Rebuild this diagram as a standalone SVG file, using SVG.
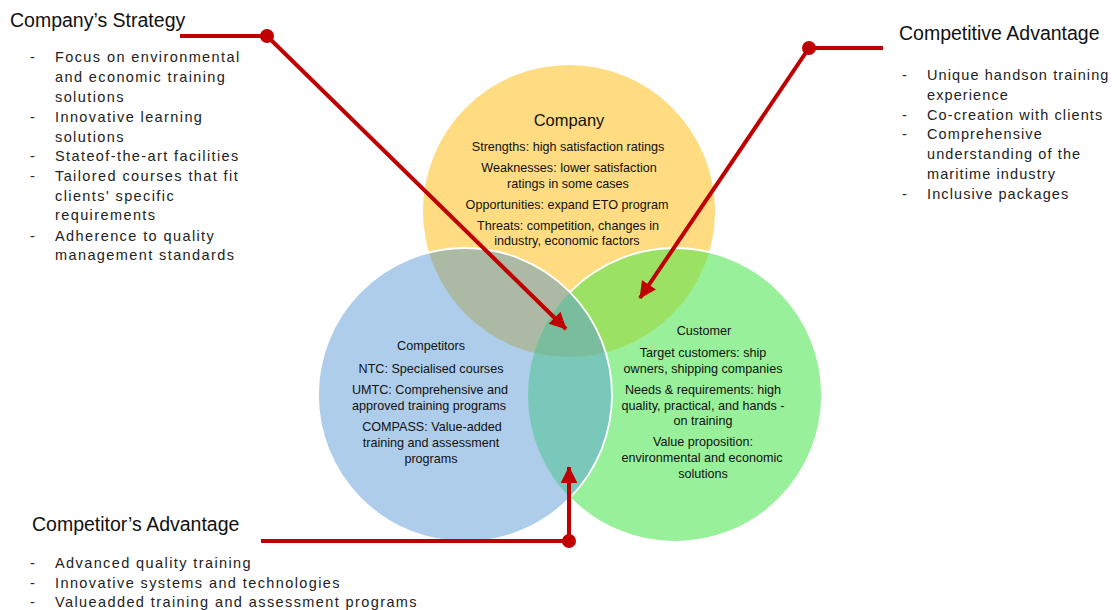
<svg xmlns="http://www.w3.org/2000/svg" width="1117" height="610" viewBox="0 0 1117 610">
  <style>
    .head { font-family: "Liberation Sans", Arial, sans-serif; font-size: 19.5px; fill: #111; }
    .bul { font-family: "Liberation Sans", Arial, sans-serif; font-size: 14.5px; letter-spacing: 1.4px; fill: #222; }
    .bul.tight { letter-spacing: 1.1px; }
    .ctitle { font-family: "Liberation Sans", Arial, sans-serif; font-size: 16.5px; fill: #111; text-anchor: middle; }
    .ctext { font-family: "Liberation Sans", Arial, sans-serif; font-size: 12.6px; fill: #111; text-anchor: middle; }
    .conn { stroke: #C00000; stroke-width: 4; fill: none; }
    .dot { fill: #C00000; }
    .edge { fill: none; stroke: #FFFFFF; stroke-width: 1.8; }
  </style>
  <defs>
    <circle id="cYellow" cx="569" cy="211" r="146"/>
    <circle id="cBlue" cx="465" cy="395" r="147"/>
    <circle id="cGreen" cx="675" cy="395" r="147"/>
    <clipPath id="clipYellow"><use href="#cYellow"/></clipPath>
    <clipPath id="clipBlue"><use href="#cBlue"/></clipPath>
    <clipPath id="clipGreen"><use href="#cGreen"/></clipPath>
    <mask id="outsideBlue" maskUnits="userSpaceOnUse" x="0" y="0" width="1117" height="610">
      <rect x="0" y="0" width="1117" height="610" fill="#fff"/>
      <circle cx="465" cy="395" r="147" fill="#000"/>
    </mask>
    <marker id="arrow" viewBox="0 0 10 10" refX="9.5" refY="5" markerWidth="4.6" markerHeight="4.2" orient="auto" markerUnits="strokeWidth">
      <path d="M0,0 L10,5 L0,10 Z" fill="#C00000"/>
    </marker>
  </defs>

  <rect x="0" y="0" width="1117" height="610" fill="#FFFFFF"/>

  <!-- Venn circles -->
  <g id="venn">
    <g id="company-circle">
      <use href="#cYellow" fill="#FFDC82"/>
    </g>
    <g id="customer-circle">
      <use href="#cGreen" fill="#98F09A"/>
    </g>
    <g id="competitors-circle">
      <use href="#cBlue" fill="#AECDEA"/>
    </g>
    <!-- overlap regions -->
    <g clip-path="url(#clipYellow)"><use href="#cBlue" fill="#ACB9A4"/></g>
    <g clip-path="url(#clipYellow)"><use href="#cGreen" fill="#9BE264"/></g>
    <g clip-path="url(#clipBlue)"><use href="#cGreen" fill="#7AC8BA"/></g>
    <g clip-path="url(#clipYellow)"><g clip-path="url(#clipBlue)"><use href="#cGreen" fill="#7ABD9D"/></g></g>
    <!-- white rims -->
    <use href="#cGreen" class="edge" mask="url(#outsideBlue)"/>
    <use href="#cBlue" class="edge"/>
  </g>

  <!-- Circle labels -->
  <g id="company">
    <text class="ctitle" x="569" y="126">Company</text>
    <text class="ctext" x="568" y="151">Strengths: high satisfaction ratings</text>
    <text class="ctext" x="569" y="172">Weaknesses: lower satisfaction</text>
    <text class="ctext" x="568" y="188">ratings in some cases</text>
    <text class="ctext" x="567" y="209">Opportunities: expand ETO program</text>
    <text class="ctext" x="568" y="230">Threats: competition, changes in</text>
    <text class="ctext" x="567" y="245">industry, economic factors</text>
  </g>
  <g id="competitors">
    <text class="ctext" x="431" y="350">Competitors</text>
    <text class="ctext" x="431" y="373">NTC: Specialised courses</text>
    <text class="ctext" x="430" y="394">UMTC: Comprehensive and</text>
    <text class="ctext" x="429" y="410">approved training programs</text>
    <text class="ctext" x="432" y="431">COMPASS: Value-added</text>
    <text class="ctext" x="431" y="447">training and assessment</text>
    <text class="ctext" x="431" y="463">programs</text>
  </g>
  <g id="customer">
    <text class="ctext" x="704" y="335">Customer</text>
    <text class="ctext" x="703" y="357">Target customers: ship</text>
    <text class="ctext" x="703" y="373">owners, shipping companies</text>
    <text class="ctext" x="703" y="394">Needs &amp; requirements: high</text>
    <text class="ctext" x="703" y="410">quality, practical, and hands -</text>
    <text class="ctext" x="703" y="425">on training</text>
    <text class="ctext" x="703" y="446">Value proposition:</text>
    <text class="ctext" x="702" y="462">environmental and economic</text>
    <text class="ctext" x="703" y="478">solutions</text>
  </g>

  <!-- Side notes -->
  <g id="company-strategy">
    <text class="head" x="10" y="27">Company’s Strategy</text>
    <g class="bul">
      <text x="30" y="62">-</text><text x="55" y="62">Focus on environmental</text>
      <text x="55" y="82">and economic training</text>
      <text x="55" y="102">solutions</text>
      <text x="30" y="122">-</text><text x="55" y="122">Innovative learning</text>
      <text x="55" y="142">solutions</text>
      <text x="30" y="161">-</text><text x="55" y="161">Stateof-the-art facilities</text>
      <text x="30" y="181">-</text><text x="55" y="181">Tailored courses that fit</text>
      <text x="55" y="201">clients' specific</text>
      <text x="55" y="220">requirements</text>
      <text x="30" y="241">-</text><text x="55" y="241">Adherence to quality</text>
      <text x="55" y="260">management standards</text>
    </g>
  </g>
  <g id="competitive-advantage">
    <text class="head" x="899" y="40">Competitive Advantage</text>
    <g class="bul tight">
      <text x="902" y="80">-</text><text x="927" y="80">Unique handson training</text>
      <text x="927" y="100">experience</text>
      <text x="902" y="120">-</text><text x="927" y="120">Co-creation with clients</text>
      <text x="902" y="139">-</text><text x="927" y="139">Comprehensive</text>
      <text x="927" y="159">understanding of the</text>
      <text x="927" y="179">maritime industry</text>
      <text x="902" y="199">-</text><text x="927" y="199">Inclusive packages</text>
    </g>
  </g>
  <g id="competitor-advantage">
    <text class="head" x="32" y="531">Competitor’s Advantage</text>
    <g class="bul">
      <text x="30" y="568">-</text><text x="55" y="568">Advanced quality training</text>
      <text x="30" y="588">-</text><text x="55" y="588">Innovative systems and technologies</text>
      <text x="30" y="607">-</text><text x="55" y="607">Valueadded training and assessment programs</text>
    </g>
  </g>

  <!-- Connectors -->
  <g id="connectors">
    <path class="conn" d="M180,36 H267 L566,329" marker-end="url(#arrow)"/>
    <circle class="dot" cx="267" cy="36" r="7"/>
    <path class="conn" d="M883,48 H809 L640,298" marker-end="url(#arrow)"/>
    <circle class="dot" cx="809" cy="48" r="7"/>
    <path class="conn" d="M261,541 H569 V467" marker-end="url(#arrow)"/>
    <circle class="dot" cx="569" cy="541" r="7"/>
  </g>
</svg>
